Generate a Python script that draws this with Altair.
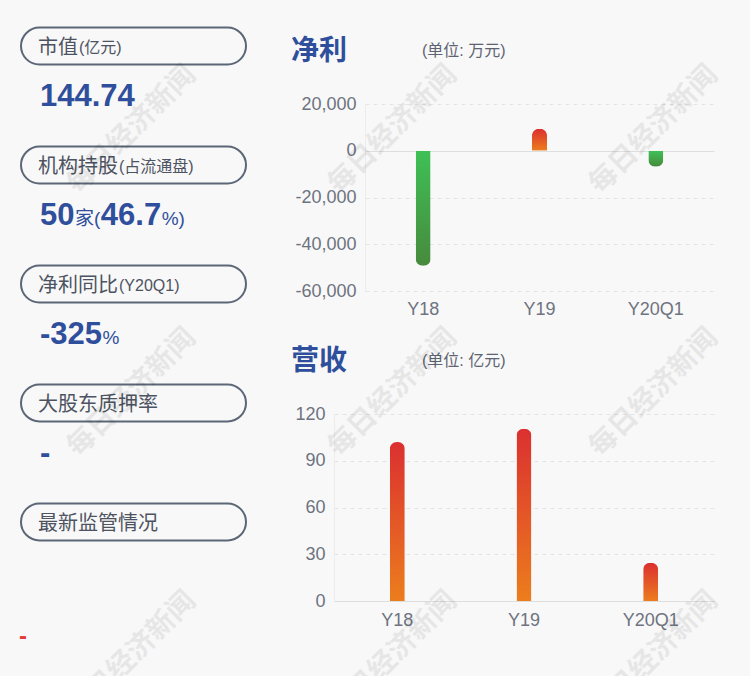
import altair as alt
import pandas as pd

# ---------------- data ----------------
periods = ["Y18", "Y19", "Y20Q1"]
net_profit = [-49200, 9400, -6800]        # 万元
revenue = [102, 110.5, 24.5]              # 亿元
np_ticks = [-60000, -40000, -20000, 0, 20000]
rev_ticks = [0, 30, 60, 90, 120]

panel_labels = ["市值", "机构持股", "净利同比", "大股东质押率", "最新监管情况"]
panel_notes = ["(亿元)", "(占流通盘)", "(Y20Q1)", "", ""]
value_rows = [0, 1, 1, 1, 1, 2, 2, 3]
value_texts = ["144.74", "50", "家(", "46.7", "%)", "-325", "%", "-"]
value_kinds = ["big", "big", "small", "big", "small", "big", "small", "big"]
regulatory_text = ["-"]

chart_titles = ["净利", "营收"]
chart_units = ["(单位: 万元)", "(单位: 亿元)"]
watermark_text = "每日经济新闻"

# ---------------- styling / layout ----------------
W, H = 750, 676
BG = "#f8f8f8"
BLUE = "#2f4f9c"
LABEL_GRAY = "#6e7380"
CJK = "Liberation Sans, Noto Sans CJK SC, sans-serif"
BIG, SMALL = 31, 19


def text_width(s, size):
    w = 0.0
    for ch in s:
        if ord(ch) > 0x2E80:
            w += 1.0
        elif ch.isdigit():
            w += 0.556
        elif ch == ".":
            w += 0.278
        elif ch in "-()":
            w += 0.333
        elif ch == "%":
            w += 0.889
        else:
            w += 0.5
    return w * size


def grad(c_top, c_bottom):
    return alt.LinearGradient(
        gradient="linear",
        stops=[alt.GradientStop(color=c_top, offset=0),
               alt.GradientStop(color=c_bottom, offset=1)],
        x1=0, x2=0, y1=0, y2=1)


GREEN = grad("#3ec055", "#478a3d")
RED = grad("#db3030", "#ec7d1d")

axis_common = dict(labelFont="Liberation Sans", labelFontSize=18, labelColor=LABEL_GRAY,
                   ticks=False, title=None)

# ---------------- 净利 chart ----------------
np_df = pd.DataFrame({"period": periods, "value": net_profit})
x_top = alt.X("period:N", sort=periods,
              scale=alt.Scale(domain=periods, range=[365, 714], paddingInner=0, paddingOuter=0),
              axis=alt.Axis(orient="bottom", offset=151 - H, labelPadding=149, grid=False,
                            domain=True, domainColor="#dedede", labelAngle=0, **axis_common))
y_top = alt.Y("value:Q",
              scale=alt.Scale(domain=[-60000, 20000], range=[291, 104], nice=False, zero=False),
              axis=alt.Axis(orient="left", offset=-365, values=np_ticks,
                            labelExpr="replace(format(datum.value, ','), '\u2212', '-')", grid=True,
                            gridDash=[4, 4], gridColor="#e4e4e4", domain=True, domainColor="#ececec",
                            labelPadding=9, **axis_common))
top_neg = alt.Chart(np_df).transform_filter("datum.value < 0").mark_bar(
    size=15, color=GREEN, cornerRadiusBottomLeft=7, cornerRadiusBottomRight=7
).encode(x=x_top, y=y_top)
top_pos = alt.Chart(np_df).transform_filter("datum.value >= 0").mark_bar(
    size=15, color=RED, cornerRadiusTopLeft=7, cornerRadiusTopRight=7
).encode(x=x_top, y=y_top)
top_chart = alt.layer(top_neg, top_pos)

# ---------------- 营收 chart ----------------
rev_df = pd.DataFrame({"period": periods, "value": revenue})
x_bot = alt.X("period:N", sort=periods,
              scale=alt.Scale(domain=periods, range=[334, 714], paddingInner=0, paddingOuter=0),
              axis=alt.Axis(orient="bottom", offset=601 - H, labelPadding=10, grid=False,
                            domain=True, domainColor="#dedede", labelAngle=0, **axis_common))
y_bot = alt.Y("value:Q",
              scale=alt.Scale(domain=[0, 120], range=[601, 414], nice=False),
              axis=alt.Axis(orient="left", offset=-334, values=rev_ticks, grid=True,
                            gridDash=[4, 4], gridColor="#e4e4e4", domain=True, domainColor="#ececec",
                            labelPadding=9, **axis_common))
bot_chart = alt.Chart(rev_df).mark_bar(
    size=15, color=RED, cornerRadiusTopLeft=7, cornerRadiusTopRight=7
).encode(x=x_bot, y=y_bot)

# ---------------- titles ----------------
title_df = pd.DataFrame({"t": chart_titles, "px": [291, 291], "py": [52, 362]})
unit_df = pd.DataFrame({"t": chart_units, "px": [422, 422], "py": [51, 361]})
titles = alt.Chart(title_df).mark_text(
    align="left", baseline="middle", fontSize=28, fontWeight="bold", font=CJK, color=BLUE
).encode(x=alt.X("px:Q", scale=None), y=alt.Y("py:Q", scale=None), text="t:N")
units = alt.Chart(unit_df).mark_text(
    align="left", baseline="middle", fontSize=16, font=CJK, color="#5d6372"
).encode(x=alt.X("px:Q", scale=None), y=alt.Y("py:Q", scale=None), text="t:N")

# ---------------- left panel ----------------
panel_df = pd.DataFrame({
    "row": list(range(len(panel_labels))),
    "label": panel_labels,
    "note": panel_notes,
})
panel_df["note_x"] = [38 + text_width(l, 20) + 1 for l in panel_labels]

pieces = []
cursor = {}
for r, t, k in zip(value_rows, value_texts, value_kinds):
    x0 = cursor.get(r, 40.0)
    size = BIG if k == "big" else SMALL
    pieces.append({"row": r, "t": t, "kind": k, "px": x0})
    cursor[r] = x0 + text_width(t, size) + 0.5
val_df = pd.DataFrame(pieces)

row_scale = alt.Scale(domain=list(range(5)), range=[27.5, 540.5], paddingInner=0.689, paddingOuter=0)
y_row = alt.Y("row:O", scale=row_scale, axis=None, bandPosition=0.5)

boxes = alt.Chart(panel_df).mark_rect(
    cornerRadius=18.5, fillOpacity=0, stroke="#5b6676", strokeWidth=2
).encode(y=alt.Y("row:O", scale=row_scale, axis=None), x=alt.value(21), x2=alt.value(246))
labels = alt.Chart(panel_df).mark_text(
    align="left", baseline="middle", dy=2, fontSize=20, font=CJK, color="#4d5361"
).encode(y=y_row, x=alt.value(38), text="label:N")
notes = alt.Chart(panel_df).mark_text(
    align="left", baseline="middle", dy=2, fontSize=16, font=CJK, color="#4d5361"
).encode(y=y_row, x=alt.X("note_x:Q", scale=None), text="note:N")
vals_big = alt.Chart(val_df).transform_filter("datum.kind == 'big'").mark_text(
    align="left", baseline="alphabetic", dy=60, fontSize=BIG, fontWeight="bold",
    font="Liberation Sans", color=BLUE
).encode(y=y_row, x=alt.X("px:Q", scale=None), text="t:N")
vals_small = alt.Chart(val_df).transform_filter("datum.kind == 'small'").mark_text(
    align="left", baseline="alphabetic", dy=60, fontSize=SMALL, font=CJK, color=BLUE
).encode(y=y_row, x=alt.X("px:Q", scale=None), text="t:N")
panel = alt.layer(boxes, labels, notes, vals_big, vals_small)

reg_df = pd.DataFrame({"t": regulatory_text, "px": [19], "py": [644]})
reg = alt.Chart(reg_df).mark_text(
    align="left", baseline="alphabetic", fontSize=24, fontWeight="bold",
    font="Liberation Sans", color="#e23b3b"
).encode(x=alt.X("px:Q", scale=None), y=alt.Y("py:Q", scale=None), text="t:N")

# ---------------- watermarks ----------------
wm_df = pd.DataFrame([{"wx": x, "wy": y, "t": watermark_text}
                      for x in [132, 393, 654] for y in [130, 393, 656]])
watermarks = alt.Chart(wm_df).mark_text(
    angle=315, align="center", baseline="middle", fontSize=28, fontWeight="bold",
    font="Noto Sans CJK SC", color="#000000", opacity=0.065
).encode(x=alt.X("wx:Q", scale=None), y=alt.Y("wy:Q", scale=None), text="t:N")

chart = alt.layer(
    top_chart, bot_chart, panel, titles, units, reg, watermarks
).resolve_scale(
    x="independent", y="independent"
).resolve_axis(
    x="independent", y="independent"
).properties(
    width=W, height=H, padding=0, background=BG,
    autosize=alt.AutoSizeParams(type="none")
).configure_view(stroke=None)

chart.save("out.html", embed_options={"renderer": "svg", "actions": False})
